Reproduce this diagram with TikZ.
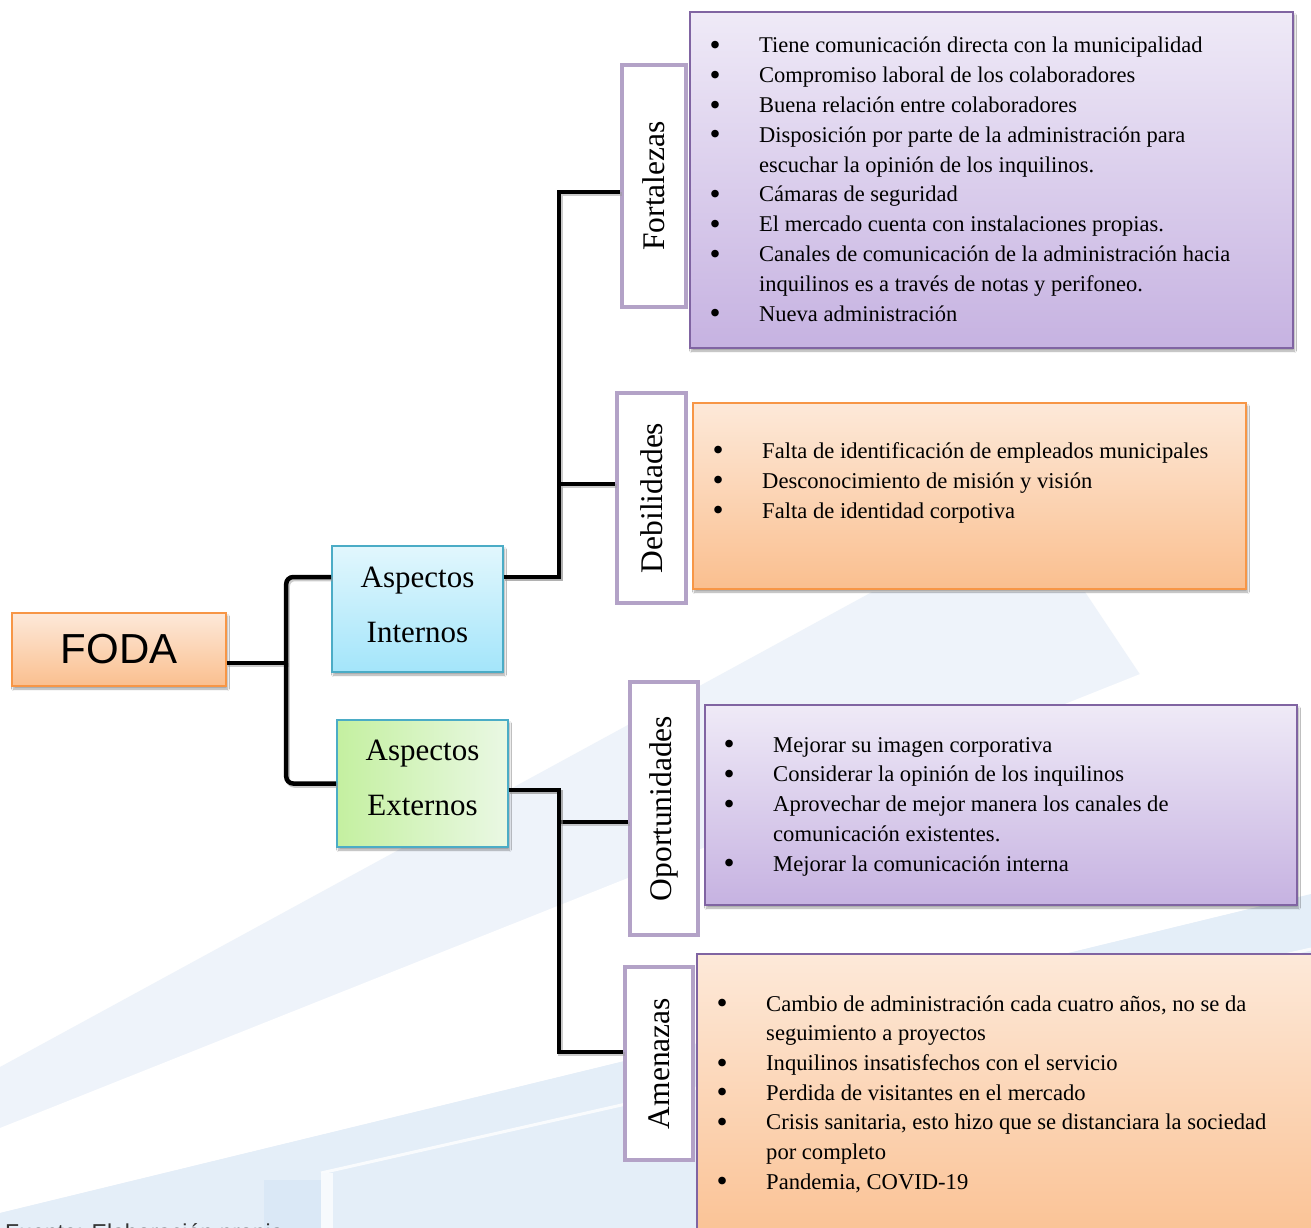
\documentclass[tikz,border=0pt]{standalone}
\usepackage{fontspec}
\setmainfont{Liberation Serif}
\newfontfamily\sansf{Liberation Sans}
\usetikzlibrary{shadows,shadows.blur}
\definecolor{orTop}{HTML}{FDE9D9}
\definecolor{orBot}{HTML}{FABF8F}
\definecolor{orLine}{HTML}{F79646}
\definecolor{cyTop}{HTML}{E2F7FD}
\definecolor{cyBot}{HTML}{A3E5FA}
\definecolor{cyLine}{HTML}{4BACC6}
\definecolor{grL}{HTML}{C4F0A0}
\definecolor{grR}{HTML}{EAF8E4}
\definecolor{puTop}{HTML}{EFEAF7}
\definecolor{puBot}{HTML}{C6B2E1}
\definecolor{puLine}{HTML}{8064A2}
\definecolor{lbLine}{HTML}{B3A2C7}
\definecolor{bgA}{RGB}{238,243,250}
\definecolor{bgL}{RGB}{228,238,248}
\definecolor{bgB}{RGB}{218,232,246}
\newcommand\bul{\makebox[0pt][c]{\raisebox{-2.6pt}{\scalebox{1.4}{\textbullet}}}}
\newcommand\blist[3]{{\fontsize{#1}{#2}\selectfont\begin{tabular}[t]{@{}p{44pt}@{}l@{}}#3\end{tabular}}}
\newcommand\twol[3]{\raisebox{#1}[\height][\depth]{\begin{tabular}{@{}c@{}}#2\\#3\end{tabular}}}
\begin{document}
\begin{tikzpicture}[x=1pt,y=-1pt,
  box/.style={draw, line width=1.6pt, inner sep=0pt,
    blur shadow={shadow xshift=1.5pt, shadow yshift=-3pt, shadow blur steps=6, shadow opacity=35}},
  orbox/.style={box, draw=orLine, top color=orTop, bottom color=orBot},
  pubox/.style={box, draw=puLine, top color=puTop, bottom color=puBot},
  cybox/.style={box, draw=cyLine, font=\fontsize{31}{55}\selectfont},
  lab/.style={draw=lbLine, line width=4pt, fill=white, rotate=90, inner sep=0pt,
    font=\fontsize{31.5}{36}\selectfont},
  conn/.style={line width=4.5pt, black,
    preaction={draw=black!40, line width=4.5pt, opacity=0.5, transform canvas={xshift=1.5pt,yshift=-2pt}}},
  listtext/.style={anchor=base west, inner sep=0pt}
]
\useasboundingbox (0,0) rectangle (1311,1228);
\clip (0,0) rectangle (1311,1228);
% background watermark
\fill[white] (0,0) rectangle (1311,1228);
\fill[bgA] (0,1067) -- (872,592) -- (1085,592) -- (1311,931) -- (1311,1228) -- (0,1228) -- cycle;
\fill[white] (0,1128) -- (1311,606) -- (1311,894) -- (0,1213) -- cycle;
\fill[bgL] (0,1213) -- (1311,894) -- (1311,1228) -- (0,1228) -- cycle;
\draw[white, line width=3pt, opacity=0.8] (321,1173) -- (1311,949);
\fill[bgB] (264,1180) rectangle (321,1228);
\fill[white!70!bgL] (321,1173) rectangle (333,1228);

% main nodes
\node[orbox, minimum width=214pt, minimum height=73pt, font=\sansf\fontsize{42}{48}\selectfont] (foda) at (119,649.5) {FODA};
\node[cybox, top color=cyTop, bottom color=cyBot, minimum width=171pt, minimum height=126pt] (ai) at (417.5,609) {\twol{5pt}{Aspectos}{Internos}};
\node[cybox, left color=grL, right color=grR, minimum width=171pt, minimum height=127pt] (ae) at (422.5,783.5) {\twol{7pt}{Aspectos}{Externos}};

\node[lab, minimum width=242pt, minimum height=64pt] (fort) at (654,186) {Fortalezas};
\node[lab, minimum width=210pt, minimum height=69pt] (deb) at (651.5,498) {Debilidades};
\node[lab, minimum width=253pt, minimum height=68pt] (opo) at (664,808.5) {Oportunidades};
\node[lab, minimum width=193pt, minimum height=68pt] (ame) at (659,1063.5) {Amenazas};

\node[pubox, minimum width=603pt, minimum height=336pt] (flbox) at (991.5,180) {};
\node[orbox, minimum width=553pt, minimum height=186pt] (dlbox) at (969.5,496) {};
\node[pubox, minimum width=592pt, minimum height=200pt] (olbox) at (1001,805) {};
\node[orbox, draw=puLine, minimum width=633pt, minimum height=306pt] (albox) at (1013.5,1107) {};

\node[listtext] (fltext) at (715,53) {\blist{22.5}{29.8}{%
\bul & Tiene comunicación directa con la municipalidad\\
\bul & Compromiso laboral de los colaboradores\\
\bul & Buena relación entre colaboradores\\
\bul & Disposición por parte de la administración para\\
 & escuchar la opinión de los inquilinos.\\
\bul & Cámaras de seguridad\\
\bul & El mercado cuenta con instalaciones propias.\\
\bul & Canales de comunicación de la administración hacia\\
 & inquilinos es a través de notas y perifoneo.\\
\bul & Nueva administración}};

\node[listtext] (dltext) at (718,458) {\blist{22.6}{30}{%
\bul & Falta de identificación de empleados municipales\\
\bul & Desconocimiento de misión y visión\\
\bul & Falta de identidad corpotiva}};

\node[listtext] (oltext) at (729,752) {\blist{22.6}{29.8}{%
\bul & Mejorar su imagen corporativa\\
\bul & Considerar la opinión de los inquilinos\\
\bul & Aprovechar de mejor manera los canales de\\
 & comunicación existentes.\\
\bul & Mejorar la comunicación interna}};

\node[listtext] (altext) at (722,1011) {\blist{22.6}{29.7}{%
\bul & Cambio de administración cada cuatro años, no se da\\
 & seguimiento a proyectos\\
\bul & Inquilinos insatisfechos con el servicio\\
\bul & Perdida de visitantes en el mercado\\
\bul & Crisis sanitaria, esto hizo que se distanciara la sociedad\\
 & por completo\\
\bul & Pandemia, COVID-19}};

% connectors
\draw[conn] ([yshift=-13.5pt]foda.east) -- ++(61,0);
\draw[conn, rounded corners=7pt] ([yshift=32pt]ai.west) -- ++(-45,0) |- (ae.west);
\draw[conn] ([yshift=32pt]ai.east) -- ++(55,0) |- ([yshift=-6pt]fort.north);
\draw[conn] ([yshift=32pt]ai.east) -- ++(55,0) |- ([yshift=14pt]deb.north);
\draw[conn] ([yshift=-6.5pt]ae.east) -- ++(50,0) |- ([yshift=-13.5pt]opo.north);
\draw[conn] ([yshift=-6.5pt]ae.east) -- ++(50,0) |- ([yshift=11.5pt]ame.north);

\node[anchor=base west, inner sep=0pt, text=black!80, font=\sansf\fontsize{23}{26}\selectfont] (fuente) at (5,1240) {Fuente: Elaboración propia};
\end{tikzpicture}
\end{document}
